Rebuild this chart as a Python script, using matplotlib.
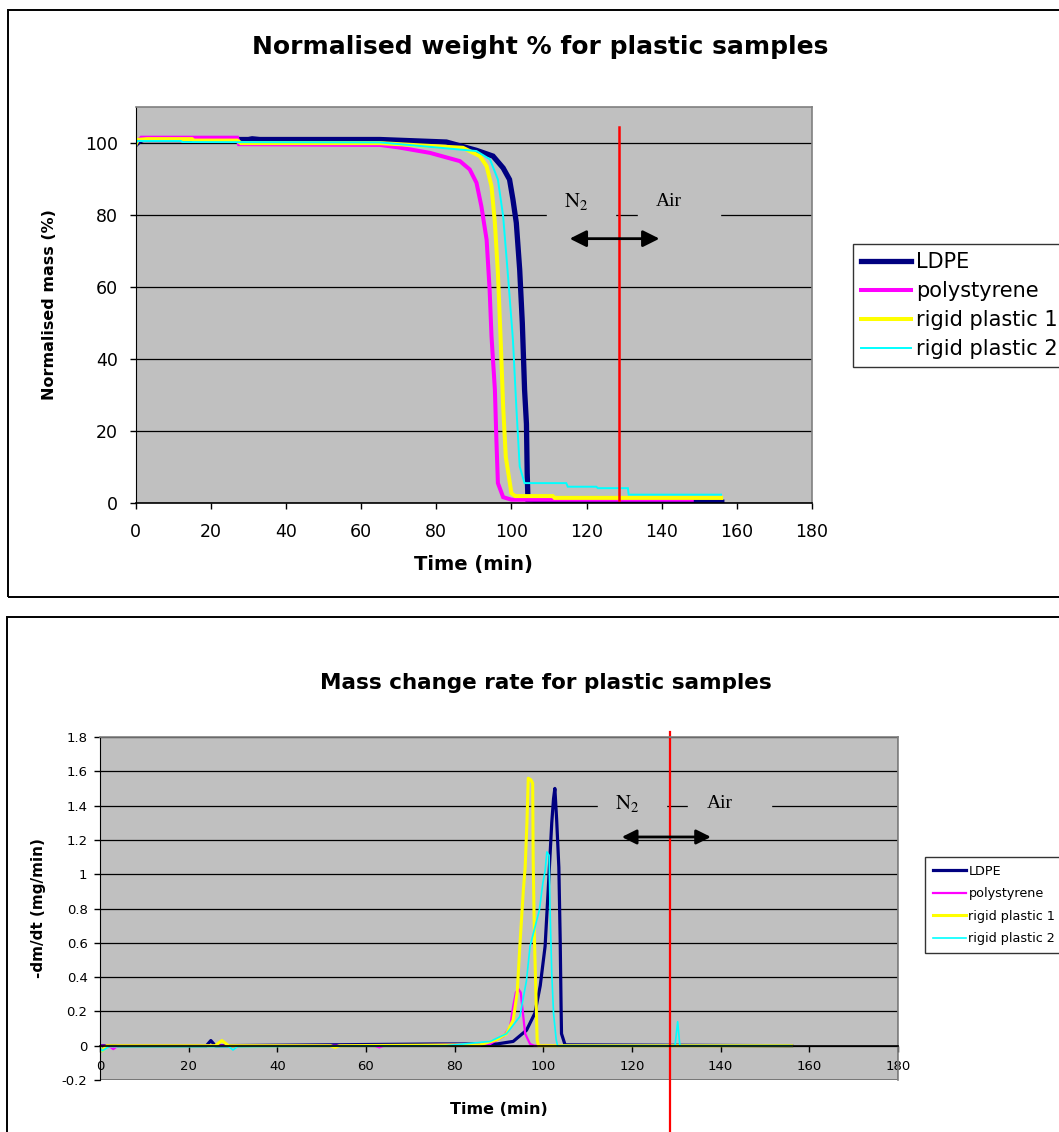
import matplotlib
matplotlib.use("Agg")
import matplotlib.pyplot as plt
from matplotlib.patches import Rectangle

plt.rcParams['font.family'] = 'DejaVu Sans'
plt.rcParams['mathtext.fontset'] = 'stix'

# ---- data: normalised weight % (top chart) ----
ldpe_t = [0, 1, 2, 30, 31, 33, 65, 82.7, 90.7, 95.1, 97.8, 99.5, 100.4, 101.3, 102.2, 102.9, 103.5, 104.0, 104.2, 104.4, 110, 156]
ldpe_m = [99.5, 100.5, 100.9, 100.9, 101.1, 100.9, 100.9, 100.2, 97.9, 96.3, 93.0, 89.8, 84.3, 77.8, 64.8, 50.0, 31.5, 22.0, 8.3, 1.0, 0.4, 0.3]
ps_t = [0, 1.5, 27, 27.5, 65, 70, 78.3, 86.3, 88.9, 90.7, 92.0, 93.4, 94.2, 94.7, 95.6, 96.0, 96.4, 97.8, 100, 148]
ps_m = [100, 101.4, 101.4, 99.6, 99.4, 98.7, 97.2, 94.9, 92.6, 88.9, 82.4, 73.1, 59.2, 46.3, 31.5, 17.6, 5.6, 1.7, 1.0, 1.0]
rp1_t = [0, 0.5, 3, 15, 15.5, 27, 28, 65, 87.1, 91.6, 93.4, 94.7, 95.6, 96.4, 97.1, 97.8, 98.5, 100, 101, 111, 111.5, 155.8]
rp1_m = [99.5, 100.8, 101.0, 101.0, 100.6, 100.6, 99.9, 99.9, 98.6, 96.3, 93.5, 87.9, 77.8, 63.9, 46.3, 26.8, 12.9, 2.8, 2.0, 2.0, 1.5, 1.5]
rp2_t = [0, 0.5, 12, 12.5, 65, 90.7, 94.3, 96.4, 97.8, 99.1, 100.4, 101.3, 102.2, 103.5, 114.6, 115, 122.6, 123, 131, 131.2, 155.8]
rp2_m = [99.8, 100.5, 100.5, 100.2, 100.1, 97.7, 95.4, 89.8, 79.6, 62.9, 45.4, 26.8, 10.2, 5.6, 5.6, 4.6, 4.6, 4.2, 4.2, 2.4, 2.4]

# ---- data: mass change rate (bottom chart) ----
ldpe_t2 = [0, 5, 24, 25, 26, 76, 84, 89.5, 93.2, 96.2, 98.1, 99.3, 100.4, 101.1, 101.9, 102.3, 102.6, 103.0, 103.5, 103.8, 104.0, 104.1, 104.9, 156]
ldpe_r = [0, 0, 0, 0.03, 0, 0.01, 0.01, 0.01, 0.025, 0.09, 0.19, 0.35, 0.58, 0.91, 1.30, 1.44, 1.50, 1.32, 1.04, 0.62, 0.23, 0.07, 0.005, 0]
ps_t2 = [0, 2, 3, 4, 6, 62, 63, 64, 88, 91, 92.5, 93.2, 93.8, 94.4, 94.9, 95.4, 95.9, 97, 98, 156]
ps_r = [0, 0, -0.02, 0, 0, 0, -0.01, 0, 0.01, 0.055, 0.11, 0.23, 0.31, 0.33, 0.31, 0.19, 0.07, 0.01, 0, 0]
rp1_t2 = [0, 0.5, 1.5, 5, 26, 27.5, 29, 52, 53, 54, 85.7, 89.5, 91.7, 93.2, 94.1, 94.7, 95.5, 95.9, 96.3, 96.6, 97.2, 97.6, 97.7, 98.0, 98.4, 98.6, 98.9, 156]
rp1_r = [-0.01, -0.03, 0, 0, 0, 0.03, 0, 0, -0.01, 0, 0.005, 0.035, 0.07, 0.15, 0.31, 0.58, 0.91, 1.04, 1.30, 1.56, 1.55, 1.53, 1.10, 0.62, 0.23, 0.035, 0, 0]
rp2_t2 = [0, 0.5, 2, 29, 30, 31, 78, 88, 91.7, 94.7, 96.2, 97, 98.1, 99.1, 99.9, 100.4, 100.8, 101.3, 101.5, 101.9, 102.3, 102.9, 103.2, 129.7, 130.3, 130.8, 156]
rp2_r = [-0.01, -0.03, -0.005, -0.005, -0.025, -0.005, 0, 0.025, 0.07, 0.17, 0.38, 0.58, 0.69, 0.79, 0.95, 1.02, 1.13, 1.11, 0.81, 0.42, 0.19, 0.035, 0, 0, 0.14, 0, 0]

labels = ['LDPE', 'polystyrene', 'rigid plastic 1', 'rigid plastic 2']
colors = ['#000080', '#ff00ff', '#ffff00', '#00ffff']
switch_time = 128.5   # N2 -> air

W, H = 1059, 1132
fig = plt.figure(figsize=(W / 100, H / 100), dpi=100)

def px_rect(l, t, r, b):
    return [l / W, 1 - b / H, (r - l) / W, (b - t) / H]

# outer chart frames
for l, t, r, b in [(8, 10, 1080, 597), (7, 617, 1080, 1150)]:
    fig.patches.append(Rectangle((l / W, 1 - b / H), (r - l) / W, (b - t) / H,
                                 transform=fig.transFigure, fill=False,
                                 edgecolor='black', lw=1.4))

def style_axes(ax, tick_size):
    ax.set_facecolor('#c0c0c0')
    ax.set_axisbelow(True)
    ax.yaxis.grid(True, color='black', lw=0.9)
    for s in ['top', 'right', 'bottom']:
        ax.spines[s].set_color('#808080')
        ax.spines[s].set_linewidth(1.2)
    ax.spines['left'].set_color('black')
    ax.tick_params(direction='out', length=4, width=1, labelsize=tick_size)

arrow_kw = dict(arrowstyle='<|-|>', color='black', lw=2, shrinkA=0, shrinkB=0)

# ---------------- top chart ----------------
ax1 = fig.add_axes(px_rect(135.7, 106.7, 812, 503.3))
style_axes(ax1, 12.5)
ax1.spines['bottom'].set_color('black')
widths1 = [3.8, 2.9, 2.9, 1.4]
series1 = [(ldpe_t, ldpe_m), (ps_t, ps_m), (rp1_t, rp1_m), (rp2_t, rp2_m)]
for (t, m), c, lw, lab in zip(series1, colors, widths1, labels):
    ax1.plot(t, m, color=c, lw=lw, label=lab, solid_joinstyle='miter')
ax1.set_xlim(0, 180)
ax1.set_ylim(0, 110)
ax1.set_xticks(range(0, 181, 20))
ax1.set_yticks(range(0, 101, 20))
ax1.tick_params(axis='x', pad=10)
ax1.tick_params(axis='y', pad=9)
ax1.set_xlabel('Time (min)', fontsize=14, fontweight='bold', labelpad=10)
ax1.set_ylabel('Normalised mass (%)', fontsize=11.5, fontweight='bold', labelpad=20)
ax1.plot([switch_time, switch_time], [1, 104.5], color='#ff0000', lw=1.8)
ax1.add_patch(Rectangle((109.4, 76), 18.1, 8, color='#c0c0c0', zorder=1))
ax1.add_patch(Rectangle((133.6, 76), 22.0, 8, color='#c0c0c0', zorder=1))
ax1.text(117.3, 83.7, r'$\mathrm{N_2}$', fontsize=15, ha='center', va='center')
ax1.text(141.8, 83.7, 'Air', fontsize=14, family='Liberation Serif', ha='center', va='center')
ax1.annotate('', xy=(139.4, 73.4), xytext=(115.5, 73.4),
             arrowprops=dict(mutation_scale=25, **arrow_kw))
fig.text(540 / W, 1 - 47 / H, 'Normalised weight % for plastic samples',
         fontsize=18, fontweight='bold', ha='center', va='center')
leg1 = ax1.legend(loc='upper left', bbox_to_anchor=(853 / W, 1 - 244 / H),
                  bbox_transform=fig.transFigure, fontsize=15, frameon=True,
                  fancybox=False, edgecolor='black', handlelength=2.4,
                  handletextpad=0.25, labelspacing=0.44, borderpad=0.38,
                  borderaxespad=0)
leg1.get_frame().set_linewidth(1.0)

# ---------------- bottom chart ----------------
ax2 = fig.add_axes(px_rect(100, 737, 898, 1080))
style_axes(ax2, 9.5)
ax2.spines['bottom'].set_position(('data', 0))
ax2.spines['bottom'].set_color('black')
ax2.add_patch(Rectangle((0, 0), 1, 1, transform=ax2.transAxes, fill=False,
                        edgecolor='#808080', lw=1.2, zorder=0.4))
widths2 = [2.3, 1.6, 2.2, 1.2]
series2 = [(ldpe_t2, ldpe_r), (ps_t2, ps_r), (rp1_t2, rp1_r), (rp2_t2, rp2_r)]
for (t, r), c, lw, lab in zip(series2, colors, widths2, labels):
    ax2.plot(t, r, color=c, lw=lw, label=lab)
ax2.set_xlim(0, 180)
ax2.set_ylim(-0.2, 1.8)
ax2.set_xticks(range(0, 181, 20))
ax2.set_yticks([-0.2, 0, 0.2, 0.4, 0.6, 0.8, 1, 1.2, 1.4, 1.6, 1.8])
ax2.set_yticklabels(['-0.2', '0', '0.2', '0.4', '0.6', '0.8', '1', '1.2', '1.4', '1.6', '1.8'])
ax2.tick_params(axis='x', pad=6)
ax2.tick_params(axis='y', pad=5)
ax2.set_xlabel('Time (min)', fontsize=11.5, fontweight='bold', labelpad=21)
ax2.set_ylabel('-dm/dt (mg/min)', fontsize=11, fontweight='bold', labelpad=11)
ax2.plot([switch_time, switch_time], [1.83, -0.5], color='#ff0000', lw=1.6, clip_on=False)
ax2.add_patch(Rectangle((112.3, 1.35), 15.4, 0.12, color='#c0c0c0', zorder=1))
ax2.add_patch(Rectangle((132.6, 1.35), 18.8, 0.12, color='#c0c0c0', zorder=1))
ax2.text(118.9, 1.415, r'$\mathrm{N_2}$', fontsize=15, ha='center', va='center')
ax2.text(139.9, 1.415, 'Air', fontsize=14, family='Liberation Serif', ha='center', va='center')
ax2.annotate('', xy=(137.8, 1.217), xytext=(117.7, 1.217),
             arrowprops=dict(mutation_scale=22, **arrow_kw))
fig.text(546 / W, 1 - 683 / H, 'Mass change rate for plastic samples',
         fontsize=15.5, fontweight='bold', ha='center', va='center')
leg2 = ax2.legend(loc='upper left', bbox_to_anchor=(925 / W, 1 - 857 / H),
                  bbox_transform=fig.transFigure, fontsize=9.2, frameon=True,
                  fancybox=False, edgecolor='black', handlelength=2.6,
                  handletextpad=0.2, labelspacing=0.75, borderpad=0.6,
                  borderaxespad=0)
leg2.get_frame().set_linewidth(1.0)

fig.savefig('out.png', dpi=100)
